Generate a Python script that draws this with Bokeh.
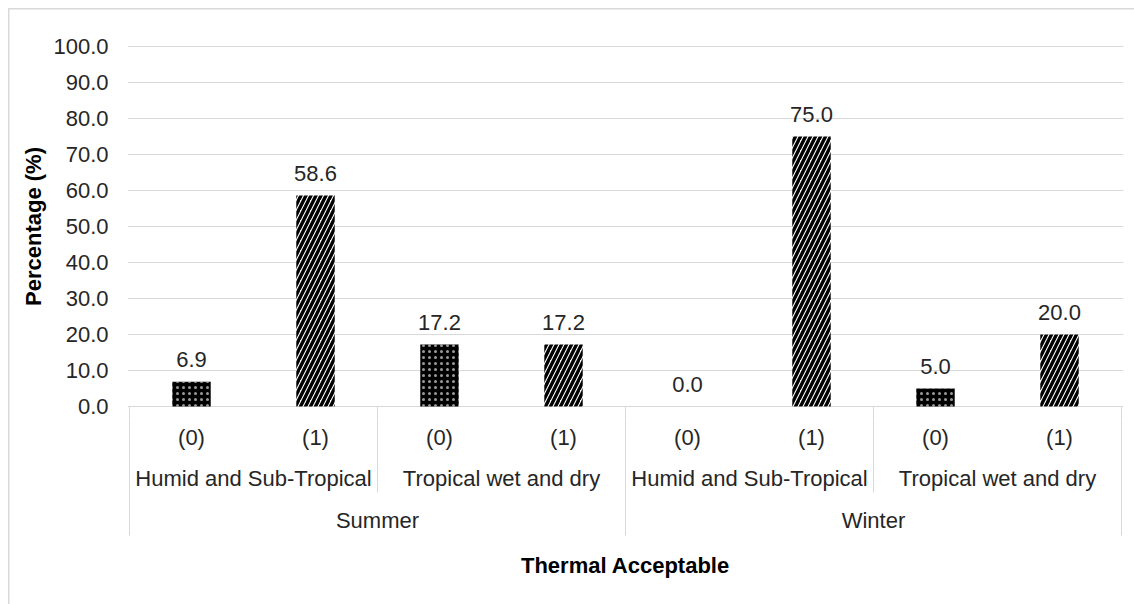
from bokeh.plotting import figure
from bokeh.layouts import column
from bokeh.models import (ColumnDataSource, FactorRange, Range1d, FixedTicker,
                          PrintfTickFormatter)
from bokeh.core.properties import value
from bokeh.embed import file_html
from bokeh.resources import INLINE

# ---- data -------------------------------------------------------------
seasons = ["Summer", "Winter"]
climates = ["Humid and Sub-Tropical", "Tropical wet and dry"]
responses = ["(0)", "(1)"]

# percentage of respondents for response (0) and (1)
summer_humid = [6.9, 58.6]
summer_tropical = [17.2, 17.2]
winter_humid = [0.0, 75.0]
winter_tropical = [5.0, 20.0]

y_ticks = [0, 10, 20, 30, 40, 50, 60, 70, 80, 90, 100]
y_title = "Percentage (%)"
x_title = "Thermal Acceptable"

# ---- layout (pixels) --------------------------------------------------
W, H = 1134, 604
FRAME_LEFT, FRAME_RIGHT, FRAME_TOP = 127, 1123, 32
SPLIT = 420                       # bottom of the bar panel / top of the category table
ZERO_PX, HUNDRED_PX = 406, 46
unit = (ZERO_PX - HUNDRED_PX) / 100.0          # pixels per percentage point


def py(px):
    """vertical pixel position -> data value"""
    return (ZERO_PX - px) / unit


FONT = value("Liberation Sans")
TXT = "#262626"
GRID = "#d9d9d9"

factors = [(s, c, r) for s in seasons for c in climates for r in responses]
values = summer_humid + summer_tropical + winter_humid + winter_tropical

n_cells = len(factors)
pad_units = (FRAME_RIGHT - FRAME_LEFT) / ((FRAME_RIGHT - FRAME_LEFT - 4) / n_cells) - n_cells
x_range = FactorRange(factors=factors, factor_padding=0, subgroup_padding=0,
                      group_padding=0, range_padding=pad_units / n_cells,
                      range_padding_units="percent")

n_r, n_c = len(responses), len(climates)
season_edges = [k * n_c * n_r for k in range(len(seasons) + 1)]
climate_edges = [s * n_c * n_r + j * n_r for s in range(len(seasons)) for j in range(1, n_c)]


def table_lines(fig):
    fig.segment(x0=season_edges, y0=[0] * len(season_edges),
                x1=season_edges, y1=[py(535)] * len(season_edges),
                line_color=GRID, line_width=1)
    fig.segment(x0=climate_edges, y0=[0] * len(climate_edges),
                x1=climate_edges, y1=[py(492)] * len(climate_edges),
                line_color=GRID, line_width=1)


# ---- bar panel ----------------------------------------------------------
p = figure(width=W, height=SPLIT, x_range=x_range,
           y_range=Range1d(py(SPLIT), py(FRAME_TOP)),
           output_backend="svg", toolbar_location=None, x_axis_location=None,
           min_border_left=FRAME_LEFT, min_border_right=W - FRAME_RIGHT,
           min_border_top=FRAME_TOP, min_border_bottom=0)
p.outline_line_color = None
p.background_fill_color = "white"
p.border_fill_color = None

ax = p.yaxis[0]
ax.ticker = FixedTicker(ticks=y_ticks)
ax.formatter = PrintfTickFormatter(format="%.1f")
ax.axis_line_color = None
ax.major_tick_line_color = None
ax.minor_tick_line_color = None
ax.major_tick_out = 0
ax.major_tick_in = 0
ax.major_label_standoff = 19
ax.major_label_text_font = "Liberation Sans"
ax.major_label_text_font_size = "22px"
ax.major_label_text_color = TXT
ax.axis_label = y_title
ax.axis_label_standoff = 4
ax.axis_label_text_font = "Liberation Sans"
ax.axis_label_text_font_size = "22px"
ax.axis_label_text_font_style = "bold"
ax.axis_label_text_color = "black"

p.xgrid.visible = False
p.ygrid.ticker = FixedTicker(ticks=y_ticks)
p.ygrid.grid_line_color = GRID
p.ygrid.grid_line_width = 1

src = ColumnDataSource(dict(x=factors, top=values,
                            label=["%.1f" % v for v in values]))
src0 = ColumnDataSource(dict(x=[f for f in factors if f[2] == responses[0]],
                             top=[v for f, v in zip(factors, values) if f[2] == responses[0]]))
src1 = ColumnDataSource(dict(x=[f for f in factors if f[2] == responses[1]],
                             top=[v for f, v in zip(factors, values) if f[2] == responses[1]]))

BAR_W = 0.31
# response (0): black bars with a fine white dot screen
p.vbar(x="x", top="top", bottom=0, width=BAR_W, source=src0,
       fill_color="black", line_color=None,
       hatch_pattern="dot", hatch_color="white", hatch_alpha=0.6,
       hatch_scale=6, hatch_weight=0.5)
# response (1): white bars with heavy forward diagonals
p.vbar(x="x", top="top", bottom=0, width=BAR_W, source=src1,
       fill_color="white", line_color=None,
       hatch_pattern="right_diagonal_line", hatch_color="black",
       hatch_scale=10, hatch_weight=3.4)

# value labels above the bars
p.text(x="x", y="top", text="label", source=src, y_offset=-22,
       text_align="center", text_baseline="middle",
       text_font=FONT, text_font_size="22px", text_color=TXT)
table_lines(p)

# ---- category table -------------------------------------------------------
t = figure(width=W, height=H - SPLIT, x_range=x_range,
           y_range=Range1d(py(H), py(SPLIT)),
           output_backend="svg", toolbar_location=None,
           x_axis_location=None, y_axis_location=None,
           min_border_left=FRAME_LEFT, min_border_right=W - FRAME_RIGHT,
           min_border_top=0, min_border_bottom=0)
t.outline_line_color = None
t.background_fill_color = "white"
t.border_fill_color = None
t.xgrid.visible = False
t.ygrid.visible = False
table_lines(t)

t.text(x=factors, y=[py(437)] * len(factors), text=[f[2] for f in factors],
       text_align="center", text_baseline="middle",
       text_font=FONT, text_font_size="22px", text_color=TXT)
pairs = [(s, c) for s in seasons for c in climates]
t.text(x=pairs, y=[py(478)] * len(pairs), text=[c for s, c in pairs],
       text_align="center", text_baseline="middle",
       text_font=FONT, text_font_size="22px", text_color=TXT)
t.text(x=seasons, y=[py(520)] * len(seasons), text=seasons,
       text_align="center", text_baseline="middle",
       text_font=FONT, text_font_size="22px", text_color=TXT)
t.text(x=[n_cells / 2], y=[py(565)], text=[x_title],
       text_align="center", text_baseline="middle",
       text_font=FONT, text_font_size="22px", text_font_style="bold",
       text_color="black")

# chart-area border along the left and top edges
layout = column(p, t, spacing=0,
                styles={"box-shadow": "inset 8px 8px 0 0 white, inset 9.5px 9.5px 0 0 #d9d9d9",
                        "background": "white"})

open("out.html", "w").write(file_html(layout, INLINE))
